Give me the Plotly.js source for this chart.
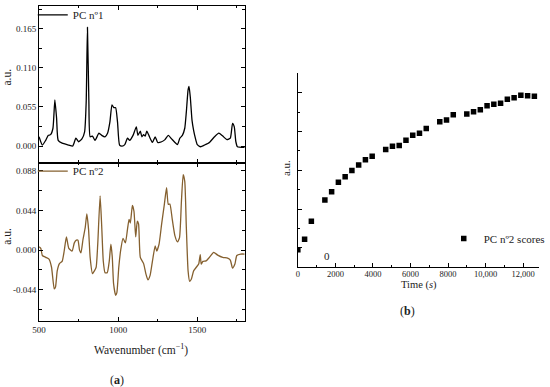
<!DOCTYPE html>
<html>
<head>
<meta charset="utf-8">
<script src="https://cdn.plot.ly/plotly-3.0.1.min.js"></script>
<style>html,body{margin:0;padding:0;background:#fff;}#chart{width:550px;height:387px;}</style>
</head>
<body>
<div id="chart"></div>
<script>
// PC nº1 loading spectrum
const wn1 = [500,521,542,559,573,588,600,611,621,646,688,713,733,750,771,788,798,806,815,823,838,854,879,896,917,933,948,961,973,984,996,1009,1025,1042,1059,1073,1094,1115,1125,1140,1150,1161,1171,1181,1198,1217,1234,1250,1275,1296,1317,1338,1359,1375,1390,1406,1421,1431,1442,1448,1456,1467,1477,1488,1500,1521,1546,1577,1609,1636,1661,1688,1709,1723,1734,1744,1754,1800];
const pc1 = [0.013,0.0014,0.008,0.015,0.016,0.025,0.065,0.039,0.008,0.004,0.0014,0.000,0.011,0.006,0.010,0.020,0.062,0.167,0.062,0.013,0.014,0.008,0.018,0.015,0.013,0.018,0.034,0.058,0.054,0.054,0.034,0.0014,0.000,0.002,0.011,0.008,0.015,0.027,0.015,0.021,0.013,0.016,0.014,0.021,0.013,0.005,0.013,0.005,0.006,0.009,0.015,0.010,0.005,0.002,0.011,0.015,0.025,0.048,0.079,0.084,0.069,0.036,0.022,0.011,0.002,-0.001,0.0014,0.005,0.013,0.018,0.014,0.009,0.011,0.032,0.027,0.006,-0.001,-0.002];

// PC nº2 loading spectrum
const wn2 = [500,511,521,542,563,579,596,604,615,629,646,659,673,688,709,723,736,746,756,765,778,792,802,813,823,838,850,861,871,886,896,906,917,931,944,954,963,971,984,992,1004,1017,1031,1046,1059,1069,1077,1090,1100,1111,1121,1129,1140,1161,1175,1188,1202,1217,1234,1244,1259,1275,1292,1306,1317,1327,1342,1359,1375,1388,1400,1411,1421,1431,1442,1452,1463,1477,1494,1509,1519,1525,1536,1556,1577,1604,1629,1661,1692,1709,1723,1738,1750,1775,1800];
const pc2 = [0.0036,0.002,-0.006,-0.008,-0.010,-0.019,-0.043,-0.041,-0.023,-0.015,-0.0125,-0.001,0.0146,0.002,-0.001,0.008,0.011,0.011,0,-0.003,0.012,0.025,0.040,0.023,-0.008,-0.026,-0.023,-0.019,0.0066,0.060,0.027,-0.012,-0.025,-0.025,-0.012,0.0066,-0.008,-0.037,-0.050,-0.047,-0.019,0.001,0.013,0.008,0.023,0.034,0.030,0.0495,0.043,0.0146,0.032,0.029,-0.008,-0.015,-0.026,-0.033,-0.028,-0.012,0.0047,-0.001,0.007,0.029,0.0506,0.069,0.0506,0.051,0.034,0.0157,0.009,0.0139,0.054,0.0836,0.076,0.025,-0.023,-0.0345,-0.032,-0.023,-0.019,-0.0155,-0.005,-0.0155,-0.0125,-0.012,-0.008,-0.0026,-0.0055,-0.008,-0.009,-0.011,-0.020,-0.0155,-0.006,-0.0044,-0.0044];

// PC nº2 scores vs time
const timeS = [0,360,720,1440,1800,2160,2520,2880,3240,3600,3960,4680,5040,5400,5760,6120,6480,6840,7560,7920,8280,9000,9360,9720,10080,10440,10800,11160,11520,11880,12240,12600];
const scores = [0.91,1.44,2.38,3.47,3.90,4.38,4.67,4.99,5.27,5.54,5.73,6.07,6.24,6.28,6.55,6.81,6.91,7.16,7.51,7.59,7.87,7.90,8.02,8.12,8.33,8.41,8.46,8.67,8.74,8.87,8.84,8.82];

// ticks
const yTicks1 = [0, 0.055, 0.110, 0.165];
const yTickText1 = ['0.000', '0.055', '0.110', '0.165'];
const yMinor1 = [0.0275, 0.0825, 0.1375, 0.1925];
const yTicks2 = [-0.044, 0, 0.044, 0.088];
const yTickText2 = ['-0.044', '0.000', '0.044', '0.088'];
const yMinor2 = [-0.066, -0.022, 0.022, 0.066];
const xTicksA = [500, 1000, 1500];
const xMinorA = [750, 1250, 1750];
const xTicksB = [0, 2000, 4000, 6000, 8000, 10000, 12000];
const xTickTextB = ['0', '2000', '4000', '6000', '8000', '10,000', '12,000'];
const xMinorB = [1000, 3000, 5000, 7000, 9000, 11000];
const yTicksB = [1, 3, 5, 7, 9];
const yMinorB = [0, 2, 4, 6, 8, 10];

const SERIF = '"Liberation Serif", "DejaVu Serif", serif';
const TXT = '#222';

const traces = [
  {x: wn1, y: pc1, type: 'scatter', mode: 'lines', name: 'PC nº1', xaxis: 'x', yaxis: 'y',
   line: {color: '#000000', width: 1.3, shape: 'spline', smoothing: 0.5}, legend: 'legend'},
  {x: wn2, y: pc2, type: 'scatter', mode: 'lines', name: 'PC nº2', xaxis: 'x2', yaxis: 'y2',
   line: {color: '#85602f', width: 1.3, shape: 'spline', smoothing: 0.5}, legend: 'legend2'},
  {x: timeS, y: scores, type: 'scatter', mode: 'markers', name: 'PC nº2 scores', xaxis: 'x3', yaxis: 'y3',
   marker: {symbol: 'square', size: 5.5, color: '#000000'}, legend: 'legend3'}
];

const axBase = {showgrid: false, zeroline: false, showline: true, linecolor: '#000', linewidth: 1,
  ticks: 'inside', ticklen: 4, tickcolor: '#000', tickfont: {family: SERIF, size: 9, color: TXT}};

const leftDom = [0.0715, 0.4482];
const layout = {
  width: 550, height: 387,
  margin: {l: 0, r: 0, t: 0, b: 0},
  paper_bgcolor: '#fff', plot_bgcolor: '#fff',
  showlegend: true,
  font: {family: SERIF, color: TXT},
  xaxis: Object.assign({}, axBase, {domain: leftDom, anchor: 'y', range: [500, 1800], mirror: 'allticks',
    tickmode: 'array', tickvals: xTicksA, showticklabels: false,
    minor: {ticks: 'inside', ticklen: 2.5, tickcolor: '#000', tickmode: 'array', tickvals: xMinorA}}),
  yaxis: Object.assign({}, axBase, {domain: [0.5827, 0.9897], anchor: 'x', range: [-0.0234, 0.197], mirror: 'allticks',
    tickmode: 'array', tickvals: yTicks1, ticktext: yTickText1,
    minor: {ticks: 'inside', ticklen: 2.5, tickcolor: '#000', tickmode: 'array', tickvals: yMinor1}}),
  xaxis2: Object.assign({}, axBase, {domain: leftDom, anchor: 'y2', range: [500, 1800], mirror: 'allticks',
    tickmode: 'array', tickvals: xTicksA,
    minor: {ticks: 'inside', ticklen: 2.5, tickcolor: '#000', tickmode: 'array', tickvals: xMinorA}}),
  yaxis2: Object.assign({}, axBase, {domain: [0.1705, 0.5827], anchor: 'x2', range: [-0.0789, 0.0968], mirror: 'allticks',
    tickmode: 'array', tickvals: yTicks2, ticktext: yTickText2,
    minor: {ticks: 'inside', ticklen: 2.5, tickcolor: '#000', tickmode: 'array', tickvals: yMinor2}}),
  xaxis3: Object.assign({}, axBase, {domain: [0.5455, 0.9873], anchor: 'y3', range: [0, 12850],
    tickmode: 'array', tickvals: xTicksB, ticktext: xTickTextB, tickfont: {family: SERIF, size: 8.5, color: TXT},
    ticklabelstandoff: -2,
    minor: {ticks: 'inside', ticklen: 2.5, tickcolor: '#000', tickmode: 'array', tickvals: xMinorB}}),
  yaxis3: Object.assign({}, axBase, {domain: [0.3109, 0.8147], anchor: 'x3', range: [0, 10],
    tickmode: 'array', tickvals: yTicksB, showticklabels: false,
    minor: {ticks: 'inside', ticklen: 2.5, tickcolor: '#000', tickmode: 'array', tickvals: yMinorB}}),
  legend: {x: 33 / 550, y: 1 - 13 / 387, xanchor: 'left', yanchor: 'middle', bgcolor: 'rgba(0,0,0,0)',
    borderwidth: 0, font: {family: SERIF, size: 11, color: TXT}},
  legend2: {x: 33 / 550, y: 1 - 170 / 387, xanchor: 'left', yanchor: 'middle', bgcolor: 'rgba(0,0,0,0)',
    borderwidth: 0, font: {family: SERIF, size: 11, color: TXT}},
  legend3: {x: 447 / 550, y: 1 - 237.7 / 387, xanchor: 'left', yanchor: 'middle', bgcolor: 'rgba(0,0,0,0)',
    borderwidth: 0, font: {family: SERIF, size: 11, color: TXT}},
  annotations: [
    {text: 'a.u.', xref: 'paper', yref: 'paper', x: 7 / 550, y: 1 - 75 / 387, textangle: -90, showarrow: false,
     font: {family: SERIF, size: 11.5, color: TXT}, xanchor: 'center', yanchor: 'middle'},
    {text: 'a.u.', xref: 'paper', yref: 'paper', x: 7 / 550, y: 1 - 235 / 387, textangle: -90, showarrow: false,
     font: {family: SERIF, size: 11.5, color: TXT}, xanchor: 'center', yanchor: 'middle'},
    {text: 'a.u.', xref: 'paper', yref: 'paper', x: 288 / 550, y: 1 - 167 / 387, textangle: -90, showarrow: false,
     font: {family: SERIF, size: 11, color: TXT}, xanchor: 'center', yanchor: 'middle'},
    {text: 'Wavenumber (cm<sup>−1</sup>)', xref: 'paper', yref: 'paper', x: 142 / 550, y: 1 - 349 / 387, showarrow: false,
     font: {family: SERIF, size: 11.5, color: TXT}, xanchor: 'center', yanchor: 'middle'},
    {text: '(<b>a</b>)', xref: 'paper', yref: 'paper', x: 118 / 550, y: 1 - 380 / 387, showarrow: false,
     font: {family: SERIF, size: 12, color: TXT}, xanchor: 'center', yanchor: 'middle'},
    {text: '(<b>b</b>)', xref: 'paper', yref: 'paper', x: 410 / 550, y: 1 - 311 / 387, showarrow: false,
     font: {family: SERIF, size: 12, color: TXT}, xanchor: 'center', yanchor: 'middle'},
    {text: 'Time (<i>s</i>)', xref: 'paper', yref: 'paper', x: 421.7 / 550, y: 1 - 284 / 387, showarrow: false,
     font: {family: SERIF, size: 10.5, color: TXT}, xanchor: 'center', yanchor: 'middle'},
    {text: '0', xref: 'paper', yref: 'paper', x: 329 / 550, y: 1 - 255 / 387, showarrow: false,
     font: {family: SERIF, size: 11, color: TXT}, xanchor: 'center', yanchor: 'middle'}
  ]
};

Plotly.newPlot('chart', traces, layout, {staticPlot: true, displayModeBar: false});
</script>
</body>
</html>
